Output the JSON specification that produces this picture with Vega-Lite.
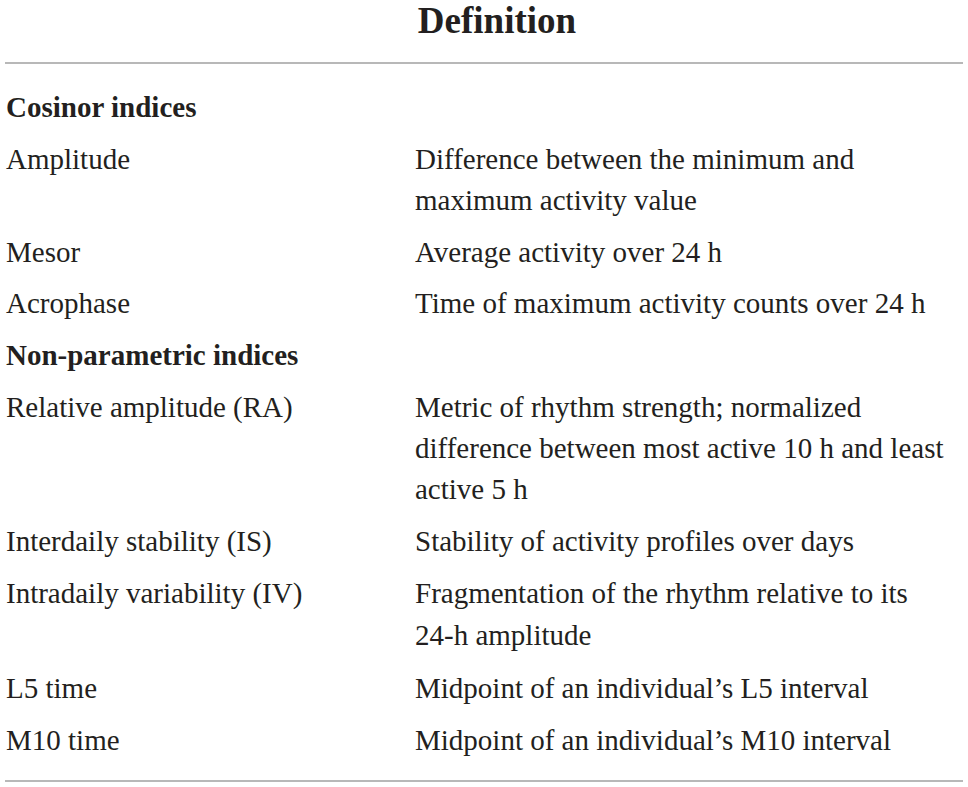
{
  "$schema": "https://vega.github.io/schema/vega-lite/v6.json",
  "width": 968,
  "height": 787,
  "autosize": {"type": "fit", "contains": "padding"},
  "padding": 0,
  "background": "#ffffff",
  "config": {"view": {"stroke": null}},
  "data": {"values": [
    {"line": 0, "column": 3, "kind": "header", "text": "Definition"},
    {"line": 2, "column": 1, "kind": "section", "text": "Cosinor indices"},
    {"line": 3, "column": 1, "kind": "cell", "text": "Amplitude"},
    {"line": 3, "column": 2, "kind": "cell", "text": "Difference between the minimum and"},
    {"line": 4, "column": 2, "kind": "cell", "text": "maximum activity value"},
    {"line": 5, "column": 1, "kind": "cell", "text": "Mesor"},
    {"line": 5, "column": 2, "kind": "cell", "text": "Average activity over 24 h"},
    {"line": 6, "column": 1, "kind": "cell", "text": "Acrophase"},
    {"line": 6, "column": 2, "kind": "cell", "text": "Time of maximum activity counts over 24 h"},
    {"line": 7, "column": 1, "kind": "section", "text": "Non-parametric indices"},
    {"line": 8, "column": 1, "kind": "cell", "text": "Relative amplitude (RA)"},
    {"line": 8, "column": 2, "kind": "cell", "text": "Metric of rhythm strength; normalized"},
    {"line": 9, "column": 2, "kind": "cell", "text": "difference between most active 10 h and least"},
    {"line": 10, "column": 2, "kind": "cell", "text": "active 5 h"},
    {"line": 11, "column": 1, "kind": "cell", "text": "Interdaily stability (IS)"},
    {"line": 11, "column": 2, "kind": "cell", "text": "Stability of activity profiles over days"},
    {"line": 12, "column": 1, "kind": "cell", "text": "Intradaily variability (IV)"},
    {"line": 12, "column": 2, "kind": "cell", "text": "Fragmentation of the rhythm relative to its"},
    {"line": 13, "column": 2, "kind": "cell", "text": "24-h amplitude"},
    {"line": 14, "column": 1, "kind": "cell", "text": "L5 time"},
    {"line": 14, "column": 2, "kind": "cell", "text": "Midpoint of an individual’s L5 interval"},
    {"line": 15, "column": 1, "kind": "cell", "text": "M10 time"},
    {"line": 15, "column": 2, "kind": "cell", "text": "Midpoint of an individual’s M10 interval"}
  ]},
  "encoding": {
    "y": {"field": "line", "type": "quantitative", "axis": null,
      "scale": {"domain": [0, 1, 2, 3, 4, 5, 6, 7, 8, 9, 10, 11, 12, 13, 14, 15, 16],
                "range": [32.5, 63, 117, 169, 209.5, 262, 313, 365, 417, 458, 499, 551, 603, 645, 698, 750, 781],
                "zero": false, "nice": false}},
    "x": {"field": "column", "type": "quantitative", "axis": null,
      "scale": {"domain": [0, 1, 2, 3, 4], "range": [5, 6, 415, 497, 963], "zero": false, "nice": false}}
  },
  "layer": [
    {
      "data": {"values": [{"line": 1, "column": 0, "columnEnd": 4}, {"line": 16, "column": 0, "columnEnd": 4}]},
      "mark": {"type": "rule", "color": "#a0a0a0", "strokeWidth": 1.5},
      "encoding": {"x2": {"field": "columnEnd"}}
    },
    {
      "transform": [{"filter": "datum.kind === 'cell'"}],
      "mark": {"type": "text", "align": "left", "baseline": "alphabetic", "font": "Liberation Serif", "fontSize": 29, "color": "#231f20"},
      "encoding": {"text": {"field": "text"}}
    },
    {
      "transform": [{"filter": "datum.kind === 'section'"}],
      "mark": {"type": "text", "align": "left", "baseline": "alphabetic", "font": "Liberation Serif", "fontSize": 29, "fontWeight": "bold", "color": "#231f20"},
      "encoding": {"text": {"field": "text"}}
    },
    {
      "transform": [{"filter": "datum.kind === 'header'"}],
      "mark": {"type": "text", "align": "center", "baseline": "alphabetic", "font": "Liberation Serif", "fontSize": 37, "fontWeight": "bold", "color": "#231f20"},
      "encoding": {"text": {"field": "text"}}
    }
  ]
}
